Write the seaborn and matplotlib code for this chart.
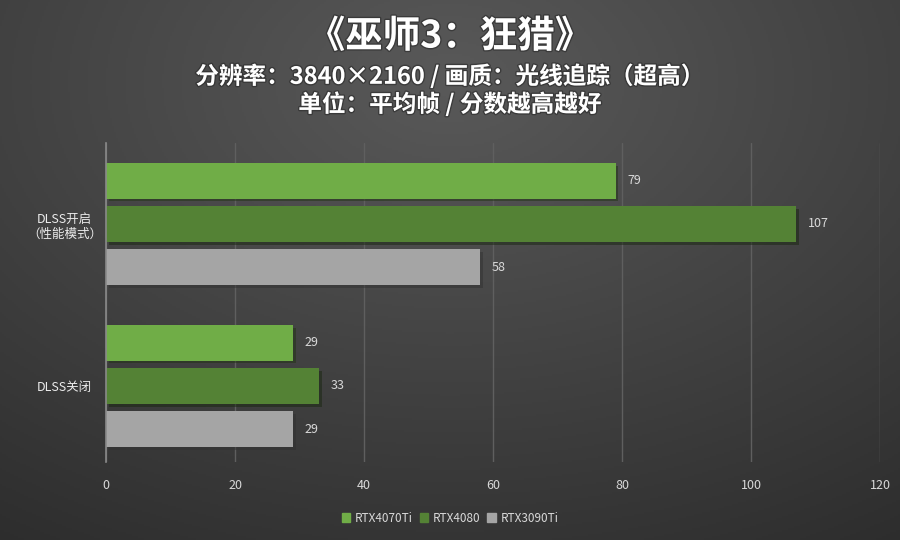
import numpy as np
import pandas as pd
import seaborn as sns
import matplotlib.pyplot as plt
import matplotlib.patheffects as pe

categories = ['DLSS开启\n（性能模式）', 'DLSS关闭']
series = ['RTX4070Ti', 'RTX4080', 'RTX3090Ti']
rtx4070ti = [79, 29]
rtx4080 = [107, 33]
rtx3090ti = [58, 29]
colors = ['#70AD47', '#548235', '#A5A5A5']

rows = []
for name, vals in zip(series, [rtx4070ti, rtx4080, rtx3090ti]):
    for cat, v in zip(categories, vals):
        rows.append({'cat': cat, 'gpu': name, 'fps': v})
df = pd.DataFrame(rows)

sns.set_theme(style='dark')
plt.rcParams['font.family'] = ['Noto Sans CJK SC', 'DejaVu Sans']

fig = plt.figure(figsize=(9, 5.4), dpi=100)

# background gradient
bg = fig.add_axes([0, 0, 1, 1])
yy, xx = np.mgrid[0:1:270j, 0:1:450j]
d = np.sqrt(((xx - 0.5) * 1.1) ** 2 + ((yy - 0.15) * 1.0) ** 2)
img = 0.35 - 0.17 * d
img = np.clip(img, 0.16, 0.37)
bg.imshow(np.dstack([img, img, img]), aspect='auto', extent=[0, 1, 0, 1], origin='upper')
bg.axis('off')

ax = fig.add_axes([106 / 900, 1 - 462 / 540, (880 - 106) / 900, (462 - 143) / 540])
ax.set_facecolor('none')
sns.barplot(data=df, y='cat', x='fps', hue='gpu', palette=colors, orient='h',
            width=0.8, gap=0.17, ax=ax, legend=False, saturation=1,
            edgecolor='none')

for bar in ax.patches:
    bar.set_path_effects([pe.SimplePatchShadow(offset=(2, -2), alpha=0.5), pe.Normal()])
    w = bar.get_width()
    ax.text(w + 1.8, bar.get_y() + bar.get_height() / 2, f'{w:.0f}',
            va='center', ha='left', color='#d9d9d9', fontsize=9)

ax.set_xlim(0, 120)
ax.set_ylim(1.47, -0.50)
ax.set_xticks(range(0, 121, 20))
ax.grid(axis='x', color='#5f5f5f', linewidth=1)
ax.grid(axis='y', visible=False)
ax.set_axisbelow(True)
for s in ['top', 'right', 'bottom']:
    ax.spines[s].set_visible(False)
ax.spines['left'].set_color('#8a8a8a')
ax.spines['left'].set_linewidth(1.2)
ax.tick_params(axis='x', colors='#d9d9d9', labelsize=9, length=0, pad=12)
ax.tick_params(axis='y', colors='#ececec', labelsize=9, length=0, pad=12)
for lbl in ax.get_yticklabels():
    lbl.set_horizontalalignment('center')
ax.yaxis.set_tick_params(pad=30)
ax.set_xlabel('')
ax.set_ylabel('')

txt_eff = [pe.Stroke(linewidth=2, foreground='#222222', alpha=0.5), pe.Normal()]
fig.text(0.5, 1 - 36 / 540, '《巫师3：狂猎》', ha='center', va='center', color='white',
         fontsize=27, fontweight='bold', path_effects=txt_eff)
fig.text(0.5, 1 - 76 / 540, '分辨率：3840×2160 / 画质：光线追踪（超高）', ha='center', va='center',
         color='white', fontsize=17, fontweight='bold', path_effects=txt_eff)
fig.text(0.5, 1 - 104 / 540, '单位：平均帧 / 分数越高越好', ha='center', va='center',
         color='white', fontsize=17, fontweight='bold', path_effects=txt_eff)

handles = [plt.Rectangle((0, 0), 1, 1, color=c) for c in colors]
fig.legend(handles, series, loc='center', bbox_to_anchor=(0.5, 1 - 518 / 540), ncol=3,
           frameon=False, fontsize=8.5, labelcolor='#d9d9d9', handlelength=0.7,
           handleheight=0.7, handletextpad=0.4, columnspacing=0.6)

fig.savefig('out.png', dpi=100)
